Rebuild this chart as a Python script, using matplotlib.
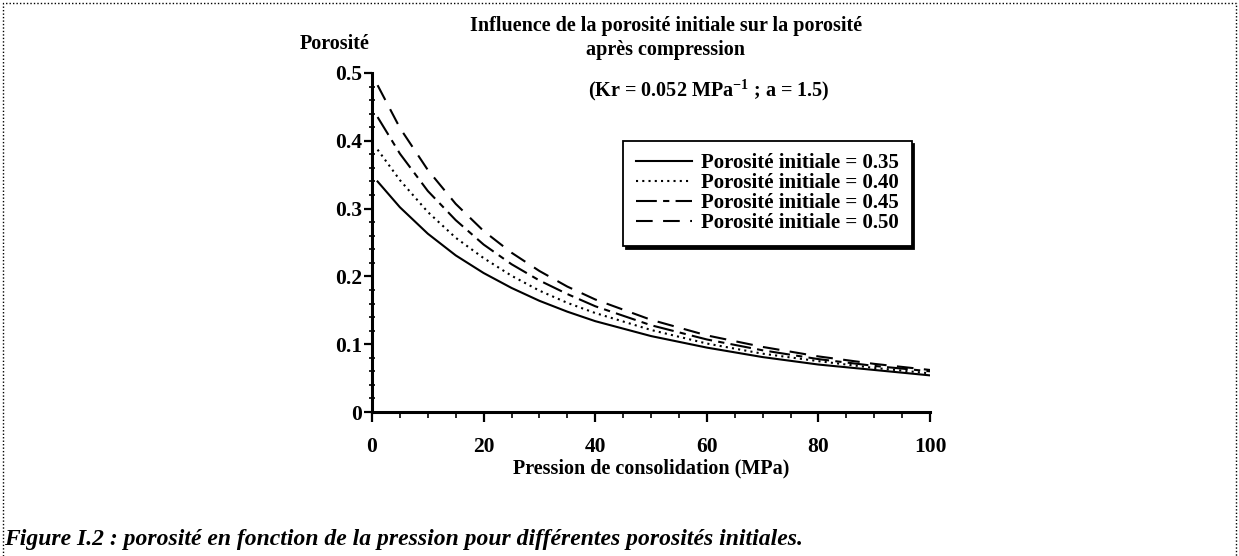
from matplotlib import pyplot as plt
from matplotlib.lines import Line2D
import matplotlib.ticker as plticker

# pressure (MPa) and porosity
pressure = [1, 5, 10, 15, 20, 25, 30, 35, 40, 50, 60, 70, 80, 90, 100]
poro035 = [0.340, 0.302, 0.263, 0.231, 0.205, 0.183, 0.164, 0.148, 0.134, 0.112, 0.095, 0.081, 0.070, 0.062, 0.054]
poro040 = [0.387, 0.342, 0.295, 0.257, 0.227, 0.201, 0.179, 0.161, 0.146, 0.121, 0.101, 0.086, 0.075, 0.065, 0.057]
poro045 = [0.435, 0.381, 0.326, 0.283, 0.247, 0.218, 0.194, 0.174, 0.156, 0.128, 0.107, 0.091, 0.078, 0.068, 0.060]
poro050 = [0.482, 0.419, 0.357, 0.307, 0.267, 0.235, 0.208, 0.185, 0.166, 0.136, 0.113, 0.096, 0.082, 0.071, 0.062]
labels = ['Porosité initiale = 0.35', 'Porosité initiale = 0.40',
          'Porosité initiale = 0.45', 'Porosité initiale = 0.50']
xticks = [0, 20, 40, 60, 80, 100]
yticks = [0, 0.1, 0.2, 0.3, 0.4, 0.5]
ytickLabels = ['0', '0.1', '0.2', '0.3', '0.4', '0.5']

W, H = 1239, 556
plt.rcParams['font.family'] = ['Liberation Serif', 'DejaVu Serif']
plt.rcParams['font.weight'] = 'bold'
plt.rcParams['mathtext.fontset'] = 'custom'
plt.rcParams['mathtext.rm'] = 'Liberation Serif:bold'
plt.rcParams['mathtext.bf'] = 'Liberation Serif:bold'

fig = plt.figure(figsize=(W / 100, H / 100), dpi=100)
axis = fig.add_axes([372 / W, 1 - 412 / H, 558 / W, 339 / H])

styles = ['-', (0, (1, 2)), (0, (10, 3, 3, 3)), (0, (8, 5))]
for values, style, label in zip([poro035, poro040, poro045, poro050], styles, labels):
    axis.plot(pressure, values, color='black', linestyle=style, linewidth=1.5, label=label)

axis.set_xlim(0, 100)
axis.set_ylim(0, 0.5)
axis.set_xticks(xticks)
axis.set_xticklabels([str(t) for t in xticks])
axis.set_yticks(yticks)
axis.set_yticklabels(ytickLabels)
axis.xaxis.set_minor_locator(plticker.MultipleLocator(5))
axis.yaxis.set_minor_locator(plticker.MultipleLocator(0.02))
axis.tick_params(which='major', axis='y', direction='out', length=6, width=1.6, pad=1, labelsize=15.5)
axis.tick_params(which='minor', axis='y', direction='inout', length=4, width=1.2)
axis.tick_params(which='major', axis='x', direction='out', length=7, width=1.6, pad=11, labelsize=15.5)
axis.tick_params(which='minor', axis='x', direction='out', length=4, width=1.2)
for side in ['top', 'right']:
    axis.spines[side].set_visible(False)
for side in ['left', 'bottom']:
    axis.spines[side].set_linewidth(2.2)
axis.set_xlabel('Pression de consolidation (MPa)', fontsize=14.5, fontweight='bold', labelpad=1)

legend = axis.legend(loc='upper left', bbox_to_anchor=(0.45, 0.80), borderaxespad=0,
                     fontsize=15, handlelength=2.7, handletextpad=0.45, labelspacing=0.0,
                     borderpad=0.6, fancybox=False, framealpha=1,
                     shadow={'color': 'black', 'alpha': 1})
legend.get_frame().set_edgecolor('black')
legend.get_frame().set_linewidth(1.3)

# titles and labels placed like the scanned figure
fig.text(370 / W, 1 - 44 / H, 'Porosité', ha='right', va='center', fontsize=14.5)
fig.text(666 / W, 1 - 26 / H, 'Influence de la porosité initiale sur la porosité',
         ha='center', va='center', fontsize=14.5)
fig.text(666 / W, 1 - 50 / H, 'après compression', ha='center', va='center', fontsize=14.5)
fig.text(588 / W, 1 - 90 / H, r'(Kr = 0.052 MPa$^{\mathbf{-1}}$ ; a = 1.5)',
         ha='left', va='center', fontsize=14.5)
fig.text(4 / W, 1 - 540 / H,
         'Figure I.2 : porosité en fonction de la pression pour différentes porosités initiales.',
         ha='left', va='center', fontsize=17, style='italic')

# dotted frame round the figure
fig.add_artist(Line2D([3 / W, 3 / W, 1236 / W, 1236 / W], [0, 1 - 3 / H, 1 - 3 / H, 0],
                      transform=fig.transFigure, color='black', linewidth=1,
                      linestyle=(0, (1, 1.5))))

fig.savefig('out.png', dpi=100)
